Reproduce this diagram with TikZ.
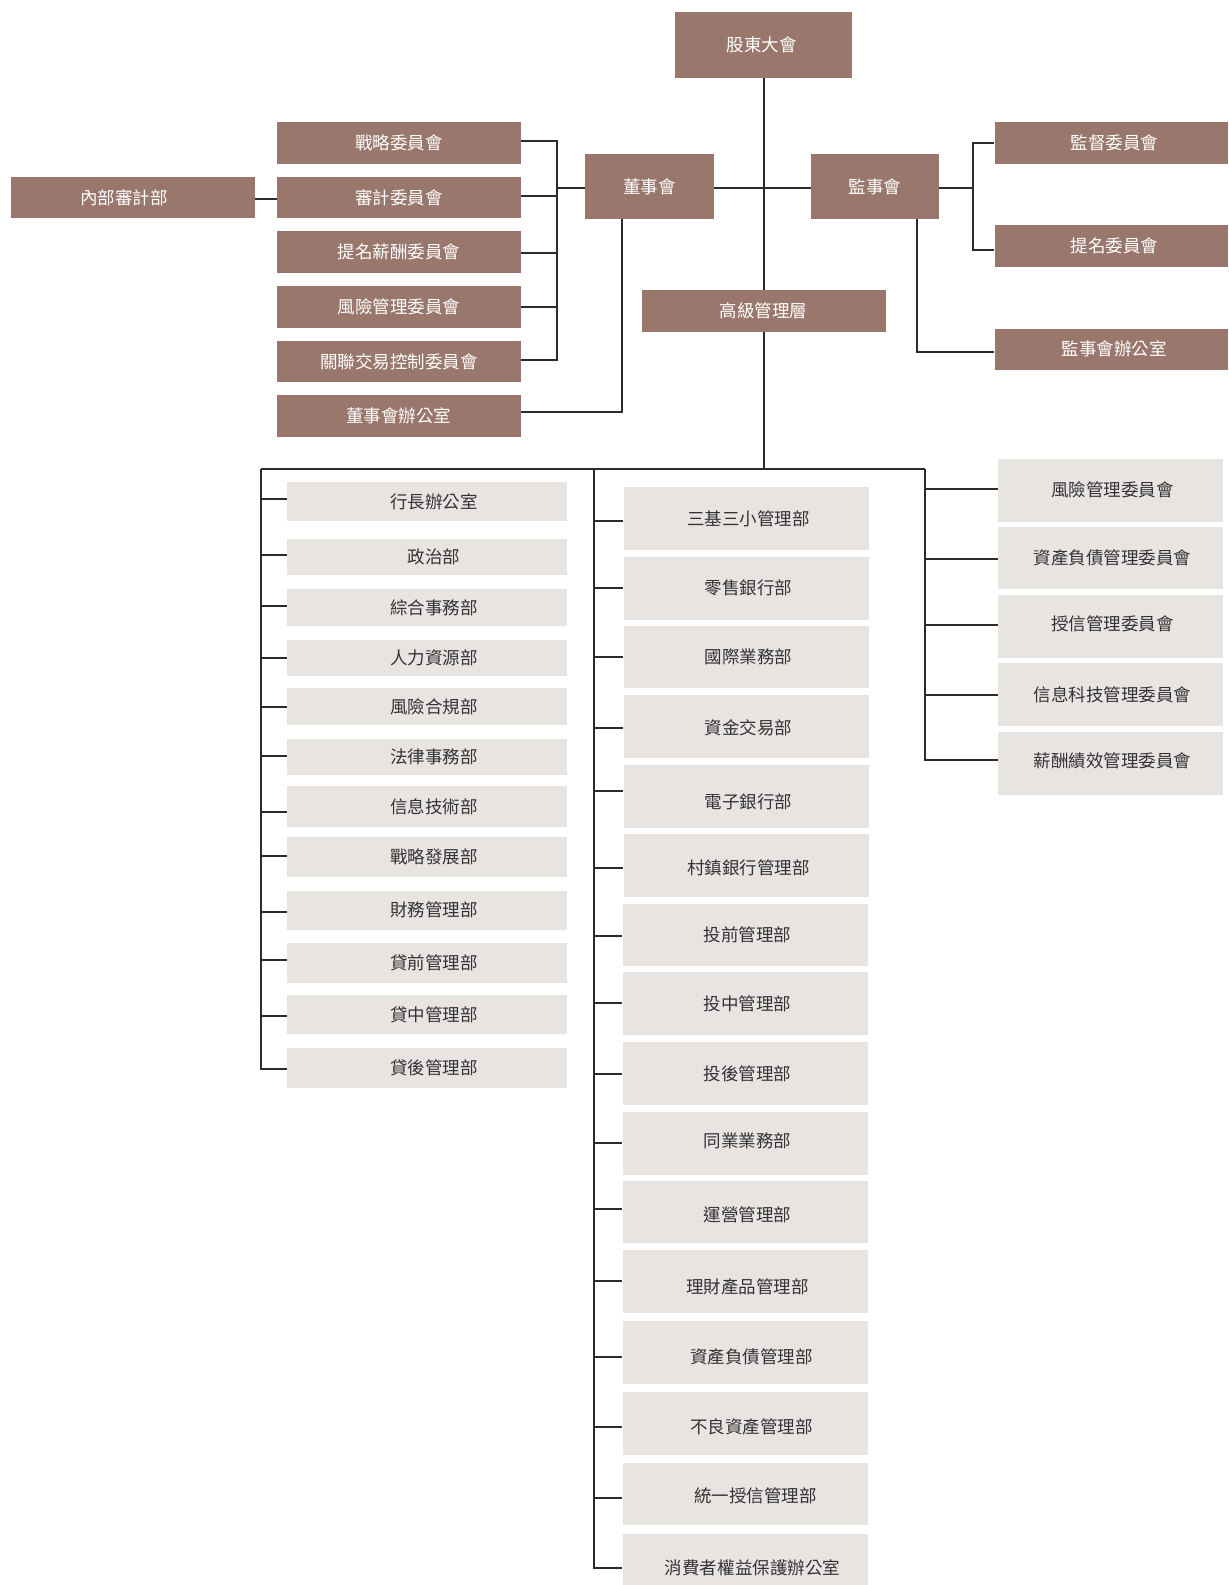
\documentclass[tikz,border=0pt]{standalone}
\usepackage{fontspec}
\setmainfont{Noto Sans CJK TC}
\usetikzlibrary{fit}
\definecolor{dk}{HTML}{9A776C}
\definecolor{lt}{HTML}{E8E4E1}
\definecolor{ln}{HTML}{2B2B2B}
\definecolor{tl}{HTML}{333333}
\tikzset{
  dbox/.style={fill=dk, draw=none, inner sep=0pt},
  lbox/.style={fill=lt, draw=none, inner sep=0pt},
  dlab/.style={inner sep=0pt, text=white, font=\fontsize{17.5}{20}\selectfont},
  llab/.style={inner sep=0pt, text=tl, font=\fontsize{17.5}{20}\selectfont},
  conn/.style={draw=ln, line width=2pt, line join=miter}
}
% \bx[label shift]{box style}{label style}{x1}{y1}{x2}{y2}{name}{text}
\newcommand\bx[9][]{\node[#2, fit={(#4,#5) (#6,#7)}, label={[#3,#1]center:#9}] (#8) {};}
\begin{document}
\begin{tikzpicture}[x=1.0107pt, y=-1.0107pt]
\useasboundingbox[fill=white] (0,0) rectangle (1215,1568);
% top level
\bx[xshift=-2pt]{dbox}{dlab}{668}{12}{843}{77}{gm}{股東大會}
\bx{dbox}{dlab}{579}{152}{706}{217}{bd}{董事會}
\bx{dbox}{dlab}{802}{152}{929}{217}{sv}{監事會}
\bx{dbox}{dlab}{635}{287}{876}{328}{sm}{高級管理層}
\bx[xshift=-9pt]{dbox}{dlab}{11}{175}{252}{216}{ia}{內部審計部}
% board committees
\bx{dbox}{dlab}{274}{121}{515}{162}{c1}{戰略委員會}
\bx{dbox}{dlab}{274}{175}{515}{216}{c2}{審計委員會}
\bx{dbox}{dlab}{274}{229}{515}{270}{c3}{提名薪酬委員會}
\bx{dbox}{dlab}{274}{283}{515}{324}{c4}{風險管理委員會}
\bx{dbox}{dlab}{274}{337}{515}{378}{c5}{關聯交易控制委員會}
\bx{dbox}{dlab}{274}{391}{515}{432}{c6}{董事會辦公室}
% supervisory
\bx[xshift=3pt]{dbox}{dlab}{984}{121}{1215}{162}{m1}{監督委員會}
\bx[xshift=3pt]{dbox}{dlab}{984}{223}{1215}{264}{m2}{提名委員會}
\bx[xshift=3pt]{dbox}{dlab}{984}{325}{1215}{366}{m3}{監事會辦公室}
% left column
\bx[xshift=7pt]{lbox}{llab}{284}{477}{561}{515}{l1}{行長辦公室}
\bx[xshift=7pt]{lbox}{llab}{284}{533}{561}{569}{l2}{政治部}
\bx[xshift=7pt]{lbox}{llab}{284}{583}{561}{619}{l3}{綜合事務部}
\bx[xshift=7pt]{lbox}{llab}{284}{633}{561}{669}{l4}{人力資源部}
\bx[xshift=7pt]{lbox}{llab}{284}{681}{561}{717}{l5}{風險合規部}
\bx[xshift=7pt]{lbox}{llab}{284}{731}{561}{767}{l6}{法律事務部}
\bx[xshift=7pt]{lbox}{llab}{284}{778}{561}{818}{l7}{信息技術部}
\bx[xshift=7pt]{lbox}{llab}{284}{828}{561}{868}{l8}{戰略發展部}
\bx[xshift=7pt]{lbox}{llab}{284}{881}{561}{920}{l9}{財務管理部}
\bx[xshift=7pt]{lbox}{llab}{284}{933}{561}{972}{l10}{貸前管理部}
\bx[xshift=7pt]{lbox}{llab}{284}{984}{561}{1023}{l11}{貸中管理部}
\bx[xshift=7pt]{lbox}{llab}{284}{1037}{561}{1076}{l12}{貸後管理部}
% middle column
\bx[xshift=2pt]{lbox}{llab}{617}{482}{860}{544}{n1}{三基三小管理部}
\bx[xshift=2pt]{lbox}{llab}{617}{551}{860}{613}{n2}{零售銀行部}
\bx[xshift=2pt]{lbox}{llab}{617}{619}{860}{681}{n3}{國際業務部}
\bx[xshift=2pt,yshift=-1pt]{lbox}{llab}{617}{688}{860}{750}{n4}{資金交易部}
\bx[xshift=2pt,yshift=-5pt]{lbox}{llab}{617}{757}{860}{819}{n5}{電子銀行部}
\bx[xshift=2pt,yshift=-3pt]{lbox}{llab}{617}{825}{860}{887}{n6}{村鎮銀行管理部}
\bx[xshift=2pt]{lbox}{llab}{616}{894}{859}{956}{n7}{投前管理部}
\bx[xshift=2pt]{lbox}{llab}{616}{962}{859}{1024}{n8}{投中管理部}
\bx[xshift=2pt]{lbox}{llab}{616}{1031}{859}{1093}{n9}{投後管理部}
\bx[xshift=2pt,yshift=2pt]{lbox}{llab}{616}{1100}{859}{1162}{n10}{同業業務部}
\bx[xshift=2pt,yshift=-3pt]{lbox}{llab}{616}{1168}{859}{1230}{n11}{運營管理部}
\bx[xshift=2pt,yshift=-5pt]{lbox}{llab}{616}{1237}{859}{1299}{n12}{理財產品管理部}
\bx[xshift=6pt,yshift=-4pt]{lbox}{llab}{616}{1307}{859}{1369}{n13}{資產負債管理部}
\bx[xshift=6pt,yshift=-4pt]{lbox}{llab}{616}{1377}{859}{1439}{n14}{不良資產管理部}
\bx[xshift=10pt,yshift=-2pt]{lbox}{llab}{616}{1447}{859}{1509}{n15}{統一授信管理部}
\bx[xshift=7pt,yshift=-2pt]{lbox}{llab}{616}{1518}{859}{1580}{n16}{消費者權益保護辦公室}
% right column
\bx[xshift=2pt]{lbox}{llab}{987}{454}{1210}{516}{q1}{風險管理委員會}
\bx[xshift=2pt]{lbox}{llab}{987}{521}{1210}{583}{q2}{資產負債管理委員會}
\bx[xshift=2pt,yshift=3pt]{lbox}{llab}{987}{589}{1210}{651}{q3}{授信管理委員會}
\bx[xshift=2pt]{lbox}{llab}{987}{656}{1210}{718}{q4}{信息科技管理委員會}
\bx[xshift=2pt,yshift=2pt]{lbox}{llab}{987}{724}{1210}{786}{q5}{薪酬績效管理委員會}
% connectors: board side
\coordinate (busA) at (551,0);
\draw[conn] (c1.east |- 0,139) -- (busA |- 0,139) -- (busA |- 0,356) -- (c5.east |- 0,356);
\foreach \c/\y in {c2/194,c3/250,c4/304} \draw[conn] (\c.east |- 0,\y) -- (busA |- 0,\y);
\draw[conn] (busA |- 0,186) -- (bd.west |- 0,186);
\coordinate (bdo) at (615,217);
\draw[conn] (c6.east |- 0,408) -| (bdo);
\draw[conn] (ia.east |- 0,197) -- (c2.west |- 0,197);
\draw[conn] (gm.south) -- (sm.north);
\draw[conn] (bd.east |- 0,186) -- (sv.west |- 0,186);
% supervisory side
\coordinate (busB) at (963,0);
\draw[conn] (m1.west |- 0,141) -- (busB |- 0,141) -- (busB |- 0,247) -- (m2.west |- 0,247);
\draw[conn] (sv.east |- 0,186) -- (busB |- 0,186);
\coordinate (svb) at (907,217);
\draw[conn] (svb) |- (m3.west |- 0,348);
% management
\coordinate (busL) at (258,464);
\coordinate (busM) at (588,464);
\coordinate (busR) at (915,464);
\draw[conn] (sm.south) -- (sm.south |- busL);
\draw[conn] (busL) -- (busR);
\draw[conn] (busL) -- (busL |- 0,1058) -- (l12.west |- 0,1058);
\foreach \c/\y in {l1/494,l2/549,l3/599,l4/651,l5/699,l6/748,l7/803,l8/847,l9/902,l10/950,l11/1005}
  \draw[conn] (busL |- 0,\y) -- (\c.west |- 0,\y);
\draw[conn] (busM) -- (busM |- 0,1551) -- (n16.west |- 0,1551);
\foreach \c/\y in {n1/515,n2/582,n3/650,n4/720,n5/783,n6/859,n7/926,n8/992,n9/1062,n10/1131,n11/1196,n12/1267,n13/1342,n14/1412,n15/1482}
  \draw[conn] (busM |- 0,\y) -- (\c.west |- 0,\y);
\draw[conn] (busR) -- (busR |- 0,752) -- (q5.west |- 0,752);
\foreach \c/\y in {q1/484,q2/553,q3/618,q4/688}
  \draw[conn] (busR |- 0,\y) -- (\c.west |- 0,\y);
\end{tikzpicture}
\end{document}
